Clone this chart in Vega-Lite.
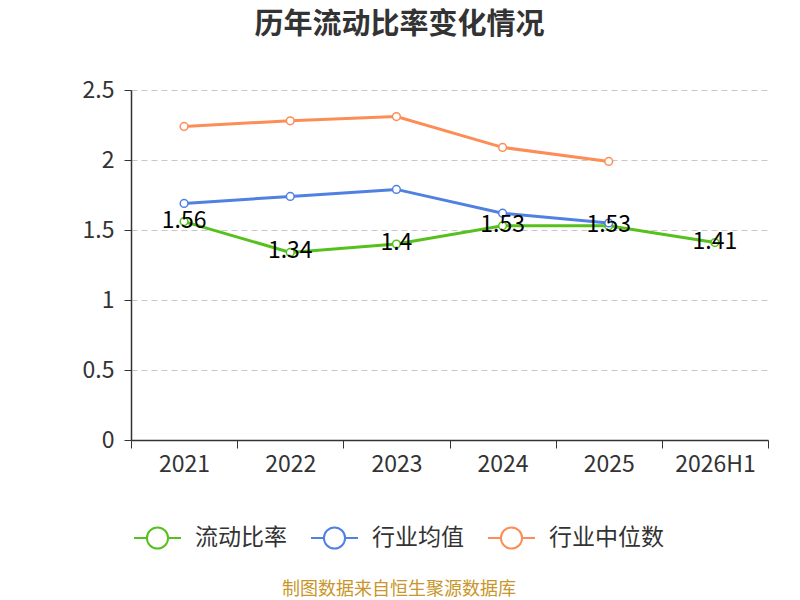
{
  "$schema": "https://vega.github.io/schema/vega-lite/v6.json",
  "width": 637,
  "height": 350,
  "autosize": {"type": "none"},
  "padding": {"left": 131, "top": 90, "right": 32, "bottom": 160},
  "background": "white",
  "config": {
    "font": "Noto Sans CJK SC",
    "view": {"stroke": null}
  },
  "title": {
    "text": "历年流动比率变化情况",
    "fontSize": 29,
    "fontWeight": "bold",
    "color": "#333333",
    "anchor": "middle",
    "dx": -50,
    "offset": 39
  },
  "data": {
    "values": [
      {"year": "2021", "series": "流动比率", "value": 1.56},
      {"year": "2022", "series": "流动比率", "value": 1.34},
      {"year": "2023", "series": "流动比率", "value": 1.4},
      {"year": "2024", "series": "流动比率", "value": 1.53},
      {"year": "2025", "series": "流动比率", "value": 1.53},
      {"year": "2026H1", "series": "流动比率", "value": 1.41},
      {"year": "2021", "series": "行业均值", "value": 1.69},
      {"year": "2022", "series": "行业均值", "value": 1.74},
      {"year": "2023", "series": "行业均值", "value": 1.79},
      {"year": "2024", "series": "行业均值", "value": 1.62},
      {"year": "2025", "series": "行业均值", "value": 1.55},
      {"year": "2021", "series": "行业中位数", "value": 2.24},
      {"year": "2022", "series": "行业中位数", "value": 2.28},
      {"year": "2023", "series": "行业中位数", "value": 2.31},
      {"year": "2024", "series": "行业中位数", "value": 2.09},
      {"year": "2025", "series": "行业中位数", "value": 1.99}
    ]
  },
  "encoding": {
    "x": {
      "field": "year",
      "type": "ordinal",
      "sort": null,
      "scale": {"type": "band", "paddingInner": 0, "paddingOuter": 0},
      "axis": {
        "title": null,
        "tickBand": "extent",
        "labelAngle": 0,
        "labelFontSize": 23,
        "labelColor": "#333333",
        "labelPadding": 5,
        "tickSize": 8,
        "tickColor": "#333333",
        "domainColor": "#333333",
        "domainWidth": 1.5,
        "grid": false
      }
    },
    "y": {
      "field": "value",
      "type": "quantitative",
      "scale": {"domain": [0, 2.5]},
      "axis": {
        "title": null,
        "values": [0, 0.5, 1, 1.5, 2, 2.5],
        "format": "~g",
        "labelFontSize": 23,
        "labelColor": "#333333",
        "labelPadding": 10,
        "tickSize": 7,
        "tickColor": "#333333",
        "domainColor": "#333333",
        "domainWidth": 1.5,
        "grid": true,
        "gridColor": "#c8c8c8",
        "gridDash": [6, 4],
        "gridWidth": 1.2
      }
    },
    "color": {
      "field": "series",
      "type": "nominal",
      "scale": {
        "domain": ["流动比率", "行业均值", "行业中位数"],
        "range": ["#56c11d", "#4f80e2", "#fd8d57"]
      },
      "legend": {
        "title": "制图数据来自恒生聚源数据库",
        "titleOrient": "bottom",
        "titleAnchor": "middle",
        "titleColor": "#c8962a",
        "titleFontSize": 18,
        "titleFontWeight": "normal",
        "titleLimit": 600,
        "titlePadding": 28,
        "orient": "none",
        "direction": "horizontal",
        "legendX": 2,
        "legendY": 423,
        "symbolType": "M-1,0L-0.45,0M0.45,0L1,0M0.45,0A0.45,0.45,0,1,1,-0.45,0A0.45,0.45,0,1,1,0.45,0",
        "symbolSize": 2209,
        "symbolStrokeWidth": 2,
        "labelFontSize": 23,
        "labelColor": "#333333",
        "labelOffset": 13,
        "labelLimit": 300,
        "columnPadding": 20
      }
    }
  },
  "layer": [
    {
      "mark": {"type": "line", "strokeWidth": 3}
    },
    {
      "mark": {"type": "point", "filled": false, "fill": "white", "fillOpacity": 1, "size": 60, "strokeWidth": 1.5, "opacity": 1}
    },
    {
      "transform": [{"filter": "datum.series === '流动比率'"}],
      "mark": {"type": "text", "fontSize": 23, "baseline": "middle", "dy": -1},
      "encoding": {
        "text": {"field": "value", "type": "quantitative"},
        "color": {"value": "black"}
      }
    }
  ]
}
